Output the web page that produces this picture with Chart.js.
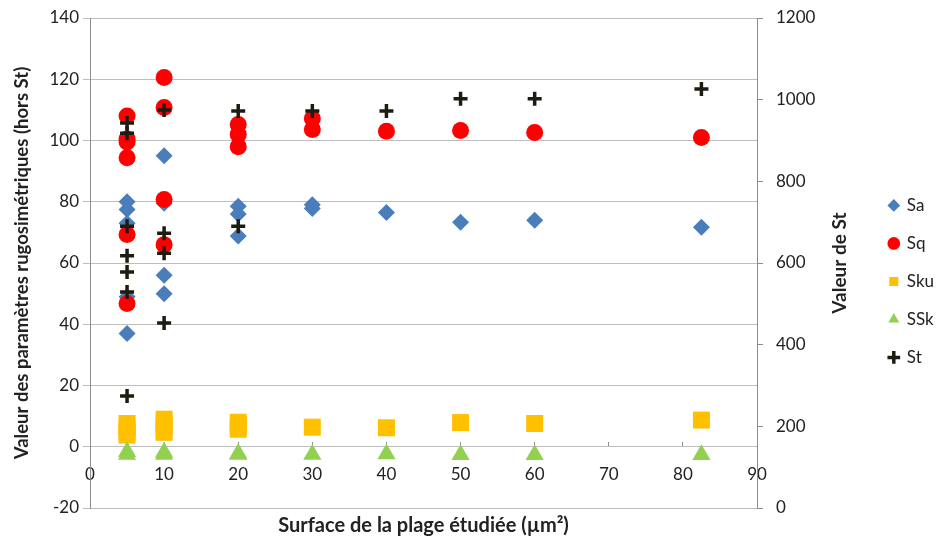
<!DOCTYPE html>
<html>
<head>
<meta charset="utf-8">
<script src="https://cdn.jsdelivr.net/npm/chart.js@4/dist/chart.umd.min.js"></script>
<style>
  body { margin: 0; background: #fff; }
  #wrap { width: 940px; height: 538px; }
</style>
</head>
<body>
<div id="wrap"><canvas id="myChart" width="940" height="538"></canvas></div>
<script>
// Surface (µm²) and values
var surfSa = [5, 5, 5, 5, 5, 10, 10, 10, 10, 20, 20, 20, 30, 30, 40, 50, 60, 82.5];
var valSa = [80, 77.5, 73, 49, 37, 95, 79.5, 56, 50, 78.5, 76, 68.8, 79, 77.8, 76.5, 73.3, 74, 71.7];

var surfSq = [5, 5, 5, 5, 5, 5, 10, 10, 10, 10, 20, 20, 20, 30, 30, 40, 50, 60, 82.5];
var valSq = [108, 100.5, 99.5, 94.4, 69.3, 46.8, 120.6, 110.8, 80.7, 66, 105.2, 102, 98, 107.2, 103.6, 103, 103.3, 102.6, 101];

var surfSku = [5, 5, 5, 5, 10, 10, 10, 10, 20, 20, 20, 30, 40, 50, 60, 82.5];
var valSku = [7.6, 6.2, 4.8, 3.8, 9, 7.5, 6, 4.7, 8, 6.8, 5.7, 6.4, 6.2, 7.9, 7.6, 8.7];

var surfSSk = [5, 5, 10, 10, 20, 20, 30, 40, 50, 60, 82.5];
var valSSk = [-1.6, -2.5, -1.8, -2.5, -2.2, -2.5, -2.5, -2.4, -2.6, -2.6, -2.6];

var surfSt = [5, 5, 5, 5, 5, 5, 5, 10, 10, 10, 10, 20, 20, 30, 40, 50, 60, 82.5];
var valSt = [943, 918, 690, 618, 578, 529, 274, 975, 673, 624, 453, 972, 690, 972, 972, 1002, 1002, 1026];

var xTicks = [0, 10, 20, 30, 40, 50, 60, 70, 80, 90];

function pts(xs, ys) {
    return xs.map(function (x, i) { return { x: x, y: ys[i] }; });
}

var font = 'Lato, "Open Sans", sans-serif';
var gridColor = '#bdbdbd';
var axisColor = '#8c8c8c';
var rightTitle = 'Valeur de St';
var padRight = -4;

// right axis title reads bottom-to-top in the original, so draw it by hand
var rightTitlePlugin = {
    id: 'rightTitle',
    afterDraw: function (chart) {
        var c = chart.ctx;
        var area = chart.chartArea;
        c.save();
        c.translate(840, (area.top + area.bottom) / 2);
        c.rotate(-Math.PI / 2);
        c.font = 'bold 19px ' + font;
        c.fillStyle = '#222';
        c.textAlign = 'center';
        c.textBaseline = 'middle';
        c.fillText(rightTitle, 0, 0);
        c.restore();
    }
};

// keep the plot area where the original has it (top 18, bottom 508)
function tightPadding(scale) {
    scale.paddingTop = 0;
    scale.paddingBottom = 0;
}

var ctx = document.getElementById('myChart').getContext('2d');
var myChart = new Chart(ctx, {
    type: 'scatter',
    data: {
        datasets: [
            { label: 'Sa', data: pts(surfSa, valSa), yAxisID: 'y', order: 5,
              pointStyle: 'rectRot', pointRadius: 8.5, backgroundColor: '#4a7ebb', borderColor: '#4a7ebb', borderWidth: 0 },
            { label: 'Sq', data: pts(surfSq, valSq), yAxisID: 'y', order: 4,
              pointStyle: 'circle', pointRadius: 8.5, backgroundColor: '#ff0000', borderColor: '#ff0000', borderWidth: 0 },
            { label: 'Sku', data: pts(surfSku, valSku), yAxisID: 'y', order: 3,
              pointStyle: 'rect', pointRadius: 12, backgroundColor: '#ffc000', borderColor: '#ffc000', borderWidth: 0 },
            { label: 'SSk', data: pts(surfSSk, valSSk), yAxisID: 'y', order: 2,
              pointStyle: 'triangle', pointRadius: 10.5, backgroundColor: '#92d050', borderColor: '#92d050', borderWidth: 0 },
            { label: 'St', data: pts(surfSt, valSt), yAxisID: 'y2', order: 1,
              pointStyle: 'cross', pointRadius: 7, backgroundColor: '#1e1c11', borderColor: '#1e1c11', borderWidth: 3.5 }
        ]
    },
    options: {
        responsive: false,
        animation: false,
        events: [],
        layout: { padding: { top: 18, left: 0, right: padRight, bottom: 0 } },
        plugins: {
            tooltip: { enabled: false },
            legend: {
                position: 'right',
                title: { display: true, text: ' ', padding: 1, font: { size: 4 } },
                labels: {
                    usePointStyle: true,
                    boxWidth: 9,
                    boxHeight: 9,
                    padding: 21,
                    color: '#222',
                    font: { family: font, size: 17 },
                    sort: function (a, b) { return a.datasetIndex - b.datasetIndex; }
                }
            }
        },
        scales: {
            x: {
                type: 'linear',
                position: { y: 0 },
                min: 0, max: 90,
                afterBuildTicks: function (scale) {
                    scale.ticks = xTicks.map(function (v) { return { value: v }; });
                },
                grid: { drawOnChartArea: false, tickLength: -5, color: axisColor },
                border: { display: false },
                ticks: { color: '#222', padding: 23, font: { family: font, size: 17 } }
            },
            xb: {
                type: 'linear',
                axis: 'x',
                position: 'bottom',
                min: 0, max: 90,
                grid: { display: false },
                border: { display: false },
                ticks: { display: false },
                afterFit: function (scale) { scale.height = 30; },
                title: {
                    display: true,
                    text: 'Surface de la plage étudiée (µm²)',
                    color: '#222',
                    padding: { top: 0, bottom: 0 },
                    font: { family: font, size: 20, weight: 'bold' }
                }
            },
            y: {
                position: 'left',
                min: -20, max: 140,
                ticks: { stepSize: 20, color: '#222', padding: 4, font: { family: font, size: 17 } },
                grid: { color: gridColor, tickLength: 7 },
                border: { color: axisColor },
                afterFit: function (scale) { scale.width = 90; tightPadding(scale); },
                title: {
                    display: true,
                    text: 'Valeur des paramètres rugosimétriques (hors St)',
                    color: '#222',
                    padding: { top: 11 },
                    font: { family: font, size: 18.5, weight: 'bold' }
                }
            },
            y2: {
                position: 'right',
                min: 0, max: 1200,
                ticks: {
                    stepSize: 200, color: '#222', padding: 13, font: { family: font, size: 17 },
                    callback: function (v) { return String(v); }
                },
                grid: { drawOnChartArea: false, color: axisColor, tickLength: 6 },
                border: { color: axisColor },
                afterFit: function (scale) {
                    var lw = scale.chart.legend ? scale.chart.legend.width : 60;
                    scale.width = 940 - 757 - lw - padRight;
                    tightPadding(scale);
                }
            }
        }
    },
    plugins: [rightTitlePlugin]
});
</script>
</body>
</html>
